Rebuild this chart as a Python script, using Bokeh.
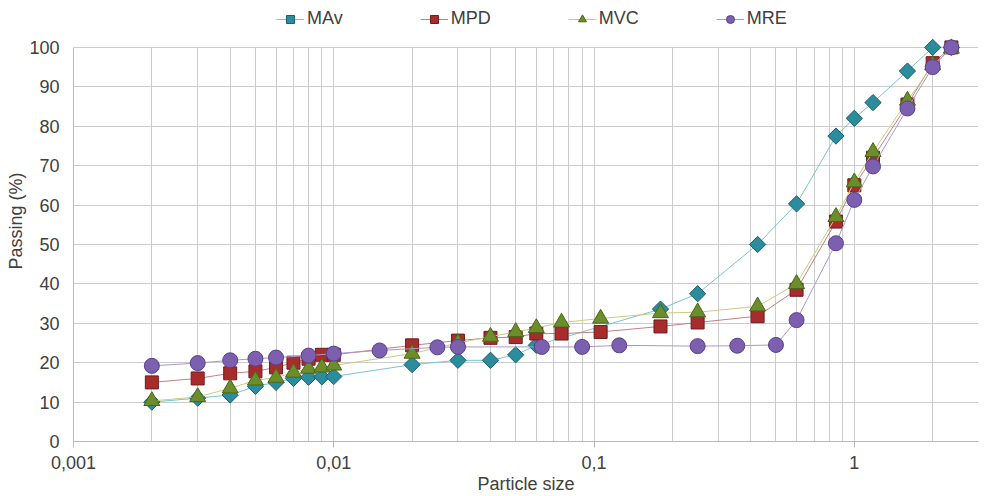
import math
from bokeh.plotting import figure
from bokeh.models import Range1d, FixedTicker, CustomJSTickFormatter, Legend, LegendItem
from bokeh.embed import file_html
from bokeh.resources import INLINE

# ---- data (particle size in mm, passing in %) ----
size_mav = [0.002, 0.003, 0.004, 0.005, 0.006, 0.007, 0.008, 0.009, 0.01, 0.02, 0.03, 0.04,
            0.05, 0.06, 0.18, 0.25, 0.425, 0.6, 0.85, 1.0, 1.18, 1.6, 2.0, 2.36]
mav = [10, 11, 11.8, 14, 15, 16, 16.3, 16.4, 16.5, 19.5, 20.6, 20.6,
       22, 24.4, 33.6, 37.5, 50, 60.3, 77.5, 82, 86, 94, 100, 100]

size_mpd = [0.002, 0.003, 0.004, 0.005, 0.006, 0.007, 0.008, 0.009, 0.01, 0.02, 0.03, 0.04, 0.05,
            0.06, 0.075, 0.106, 0.18, 0.25, 0.425, 0.6, 0.85, 1.0, 1.18, 1.6, 2.0, 2.36]
mpd = [15, 16, 17.3, 17.8, 18.8, 20, 21, 22, 22, 24.4, 25.6, 26.3, 26.5,
       27.4, 27.4, 27.8, 29.2, 30.2, 31.8, 38.5, 55.8, 65, 72, 85.5, 96, 100]

size_mvc = size_mpd
mvc = [10.3, 11.3, 13.5, 15.5, 16.2, 17.5, 18.5, 18.8, 19.3, 22.3, 25, 26.6, 27.8,
       28.8, 30.2, 31.2, 32.6, 32.8, 34.3, 40, 57, 65.8, 73.5, 86.5, 95.5, 99.7]

size_mre = [0.002, 0.003, 0.004, 0.005, 0.006, 0.008, 0.01, 0.015, 0.025, 0.03, 0.063, 0.09,
            0.125, 0.25, 0.355, 0.5, 0.6, 0.85, 1.0, 1.18, 1.6, 2.0, 2.36]
mre = [19.2, 19.9, 20.6, 21, 21.3, 21.8, 22.3, 23.1, 23.9, 24, 24, 24,
       24.4, 24.2, 24.3, 24.5, 30.8, 50.3, 61.3, 69.8, 84.5, 95, 100]

series_names = ["MAv", "MPD", "MVC", "MRE"]
x_major = [0.001, 0.01, 0.1, 1]
y_ticks = list(range(0, 101, 10))

FONT = "Liberation Sans"
TXT = "#404040"
GRID = "#cccccc"

p = figure(width=994, height=496, x_axis_type="log",
           x_range=Range1d(0.001, 3), y_range=Range1d(0, 111.9),
           output_backend="svg", toolbar_location=None,
           min_border_left=73, min_border_right=16, min_border_top=0, min_border_bottom=55)
p.outline_line_color = None
p.background_fill_color = "white"
p.border_fill_color = "white"

minor = [m * 10.0 ** e for e in (-3, -2, -1, 0) for m in range(2, 10) if m * 10.0 ** e <= 3.0001]
xt = FixedTicker(ticks=x_major, minor_ticks=minor)
p.xaxis.ticker = xt
p.xgrid.ticker = xt
p.xaxis.formatter = CustomJSTickFormatter(code="return tick.toString().replace('.', ',');")
p.xaxis.minor_tick_line_color = None
p.xaxis.major_tick_out = 6
p.xaxis.major_tick_in = 0
p.xaxis.major_tick_line_color = "#b8b8b8"
p.xaxis.axis_line_color = "#b8b8b8"
p.xaxis.major_label_standoff = 8
p.xaxis.axis_label = "Particle size"
p.xaxis.axis_label_standoff = 2

p.yaxis.ticker = FixedTicker(ticks=y_ticks)
p.yaxis.bounds = (0, 100)
p.yaxis.major_tick_line_color = None
p.yaxis.minor_tick_line_color = None
p.yaxis.major_tick_out = 0
p.yaxis.major_tick_in = 0
p.yaxis.axis_line_color = "#b8b8b8"
p.yaxis.major_label_standoff = 14
p.yaxis.axis_label = "Passing (%)"
p.yaxis.axis_label_standoff = 0

for ax in (p.xaxis, p.yaxis):
    ax.major_label_text_font = FONT
    ax.major_label_text_font_size = "18px"
    ax.major_label_text_color = TXT
    ax.axis_label_text_font = FONT
    ax.axis_label_text_font_size = "18px"
    ax.axis_label_text_font_style = "normal"
    ax.axis_label_text_color = TXT

p.xgrid.grid_line_color = GRID
p.xgrid.minor_grid_line_color = GRID
p.xgrid.cross_bounds = (0, 100)
p.ygrid.grid_line_color = GRID

styles = [
    dict(x=size_mav, y=mav, line="#78c4cf", marker="square", angle=math.pi / 4, size=11.5,
         fill="#2b8c9e", edge="#1b5f6c"),
    dict(x=size_mpd, y=mpd, line="#c48080", marker="square", angle=0, size=13,
         fill="#a82c2c", edge="#6e1c1c"),
    dict(x=size_mvc, y=mvc, line="#c9cc80", marker="triangle", angle=0, size=16,
         fill="#6b8e2a", edge="#4a661c"),
    dict(x=size_mre, y=mre, line="#a898c8", marker="circle", angle=0, size=15,
         fill="#7d5fb0", edge="#58418a"),
]

items = []
for name, st in zip(series_names, styles):
    ln = p.line(st["x"], st["y"], line_color=st["line"], line_width=1)
    sc = p.scatter(st["x"], st["y"], marker=st["marker"], angle=st["angle"], size=st["size"],
                   fill_color=st["fill"], line_color=st["edge"], line_width=1)
    items.append(LegendItem(label=name, renderers=[ln, sc]))

legend = Legend(items=items, orientation="horizontal", location=(203, 412), spacing=77,
                glyph_width=28, glyph_height=20, label_standoff=3,
                label_text_font=FONT, label_text_font_size="18px", label_text_color=TXT,
                border_line_color=None, background_fill_alpha=0, margin=0, padding=3)
p.add_layout(legend, "center")

open("out.html", "w").write(file_html(p, INLINE))
